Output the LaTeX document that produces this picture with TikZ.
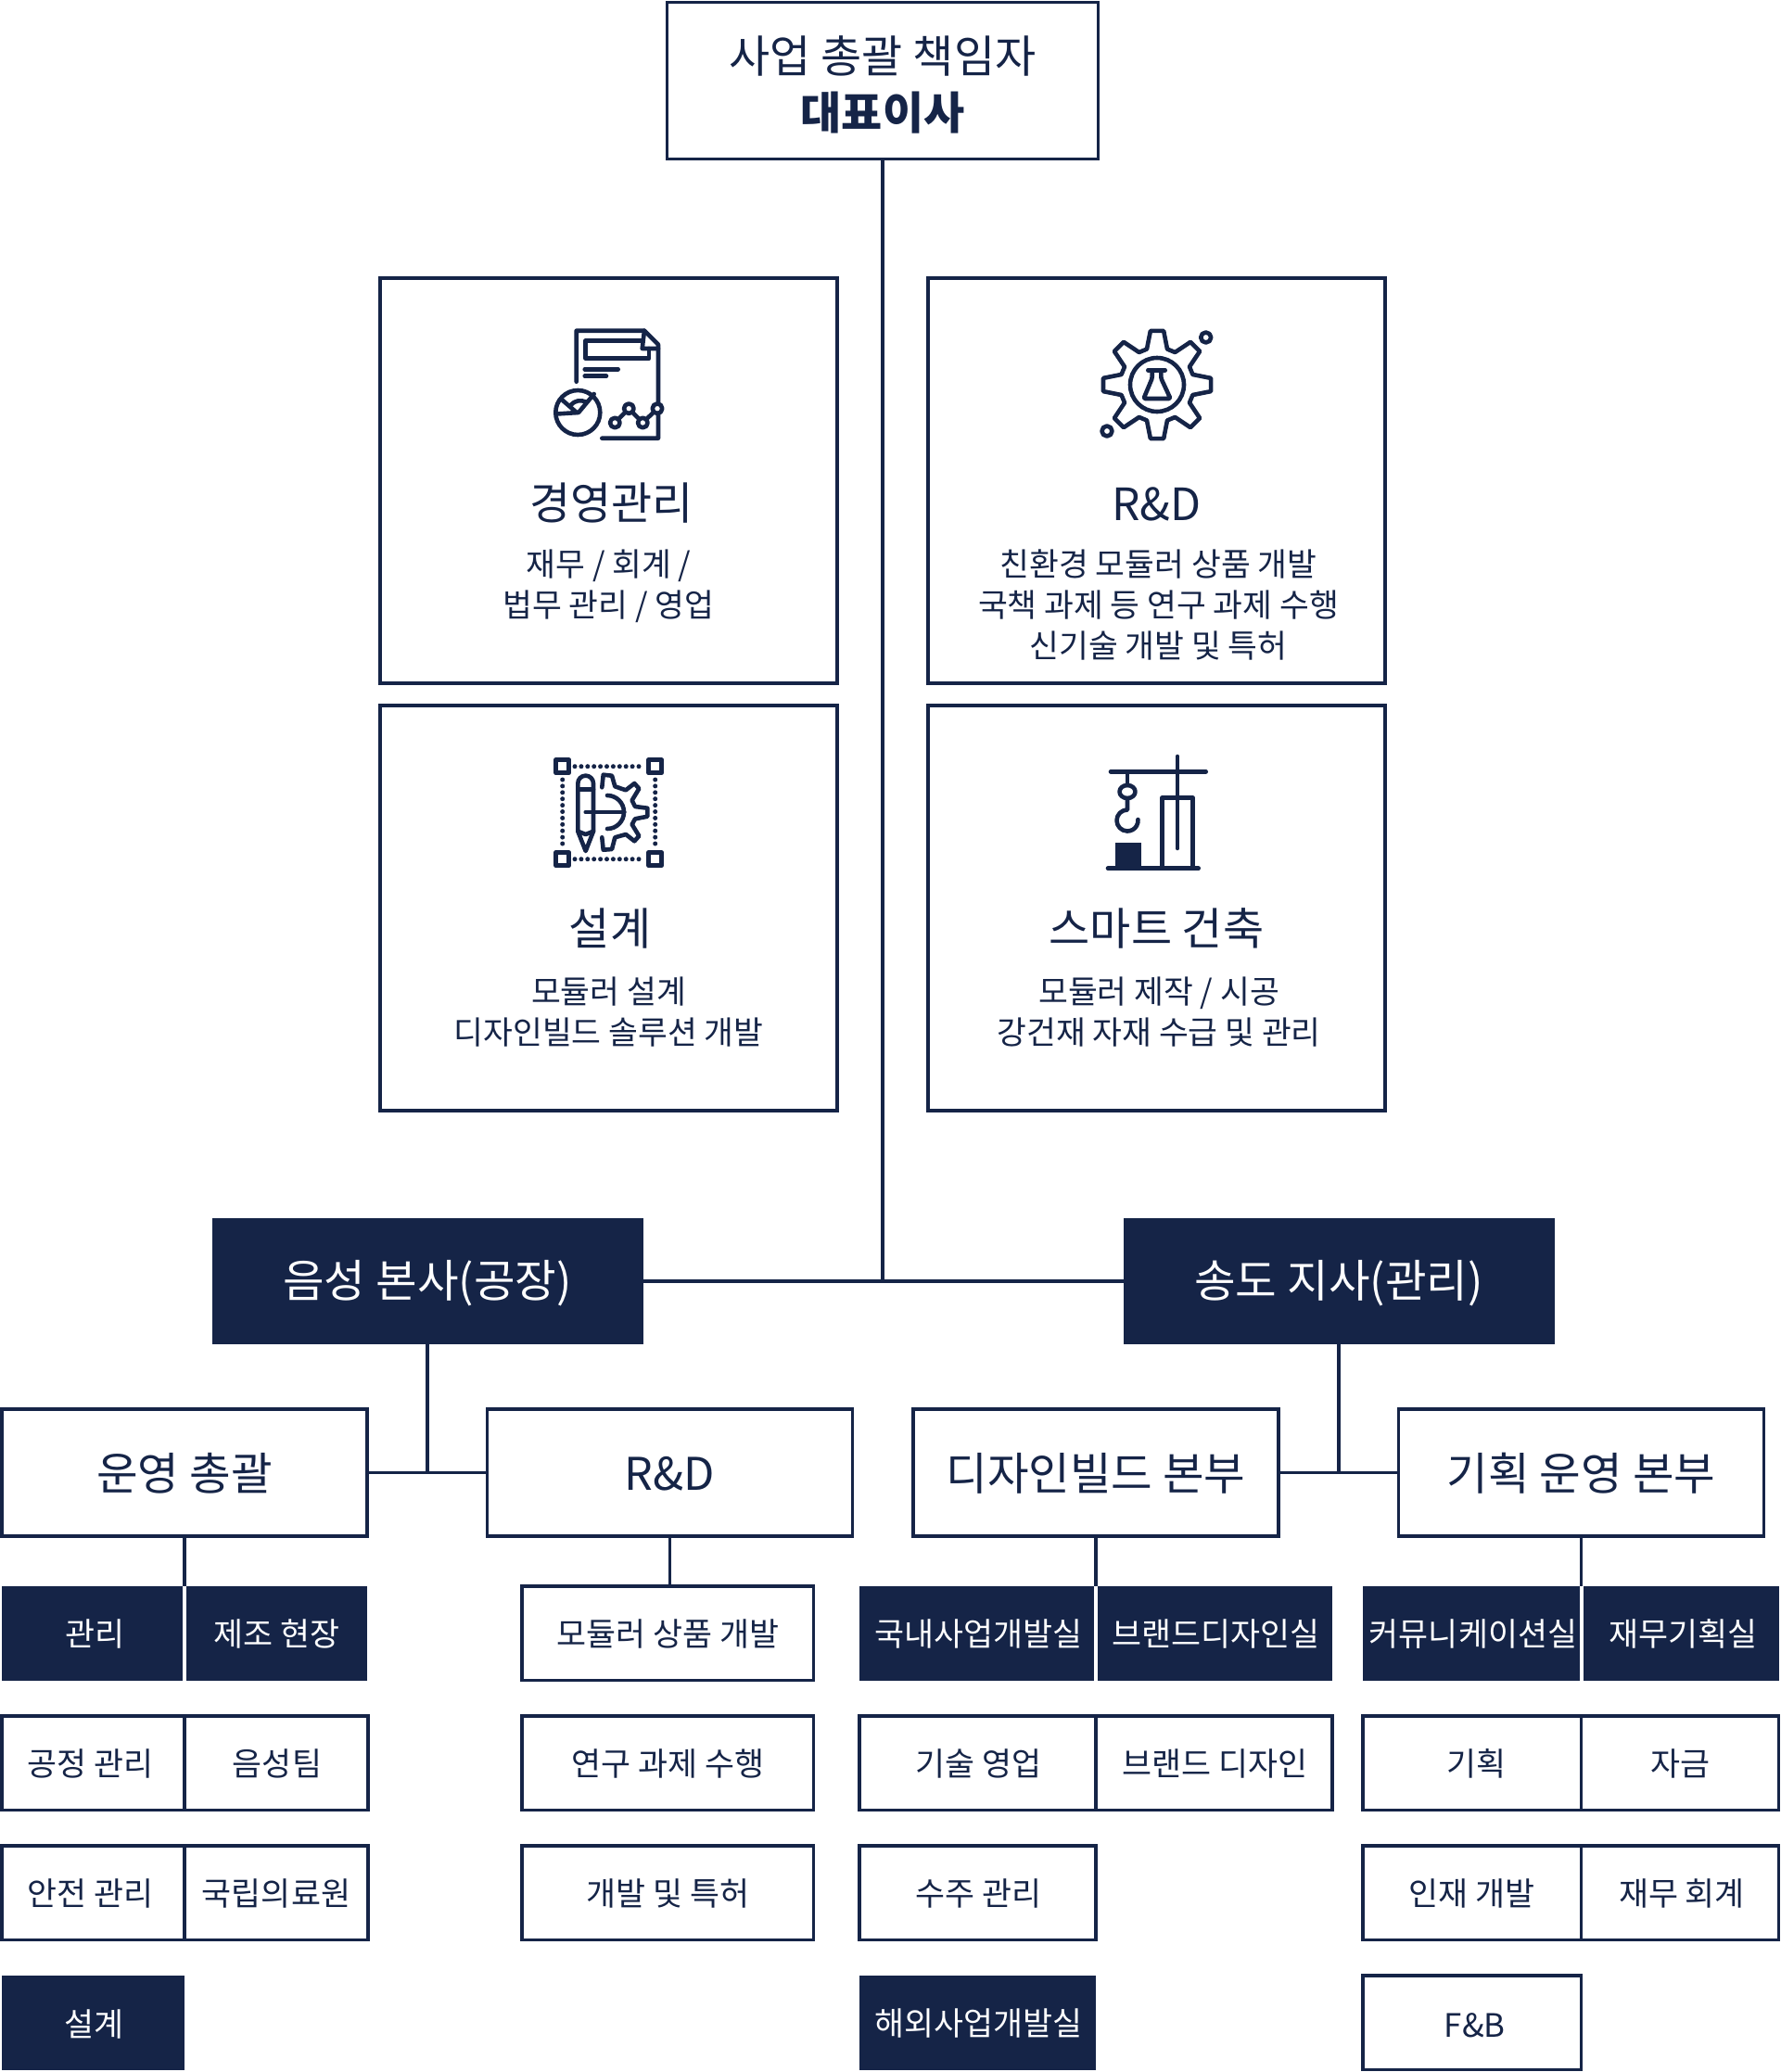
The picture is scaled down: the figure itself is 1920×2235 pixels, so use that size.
\documentclass[tikz,border=0pt]{standalone}
\usepackage{fontspec}
\setmainfont{Noto Sans CJK KR}
\usetikzlibrary{positioning}
\definecolor{navy}{HTML}{152447}
\tikzset{
  box/.style={draw=navy,line width=3.5pt,fill=white,text=navy,inner sep=0pt,outer sep=0pt,align=center},
  chiefbox/.style={box,minimum width=465pt,minimum height=169pt},
  card/.style={box,minimum width=493pt,minimum height=437pt},
  branch/.style={fill=navy,text=white,inner sep=0pt,outer sep=0pt,minimum width=465pt,minimum height=136pt,text height=41.2pt,text depth=5.8pt,font=\fontsize{48.5}{56}\selectfont},
  head/.style={box,minimum width=394pt,minimum height=137pt,text height=44.2pt,text depth=5.8pt,font=\fontsize{48.5}{56}\selectfont},
  cell/.style={box,minimum height=101.5pt,text height=30.8pt,text depth=4.2pt,font=\fontsize{34.8}{40}\selectfont},
  darkcell/.style={fill=navy,text=white,inner sep=0pt,outer sep=0pt,minimum height=101.5pt,text height=30.8pt,text depth=4.2pt,font=\fontsize{34.8}{40}\selectfont},
  under/.style={below=38.5pt of #1.south west,anchor=north west},
  beside/.style={right=0pt of #1.north east,anchor=north west},
  besidegap/.style={right=4pt of #1.north east,anchor=north west},
  cardtitle/.style={text=navy,inner sep=0pt,text height=42.2pt,text depth=5.8pt,font=\fontsize{48}{56}\selectfont},
  cardtext/.style={text=navy,inner sep=0pt,align=center,anchor=north,font=\fontsize{34.6}{43.6}\selectfont},
  link/.style={draw=navy,line width=3.5pt},
  icon/.style={draw=navy,line width=4.6pt,line cap=round,line join=round}
}
\begin{document}
\begin{tikzpicture}[x=1pt,y=-1pt]
    \useasboundingbox (0,0) rectangle (1920,2235);

    \node[chiefbox] (chief) at (952,87) {\rule{0pt}{49pt}{\fontsize{48}{63}\selectfont 사업 총괄 책임자}\\[16pt]{\fontsize{48}{63}\selectfont\bfseries 대표이사}};

    \node[card] (mgmt) at (656.5,518.5) {};
    \node[card,right=98pt of mgmt] (rnd) {};
    \node[card,below=24pt of mgmt] (design) {};
    \node[card,right=98pt of design] (smart) {};

    \node[cardtitle] (mgmttitle) at ([xshift=3pt,yshift=-242pt]mgmt.north) {경영관리};
    \node[cardtitle] (rndtitle) at ([yshift=-243pt]rnd.north) {R\&D};
    \node[cardtitle] (designtitle) at ([xshift=1.5pt,yshift=-240pt]design.north) {설계};
    \node[cardtitle] (smarttitle) at ([yshift=-240pt]smart.north) {스마트 건축};

    \node[cardtext] (mgmttext) at ([yshift=-293pt]mgmt.north) {재무 / 회계 /\\법무 관리 / 영업};
    \node[cardtext] (rndtext) at ([xshift=2pt,yshift=-293pt]rnd.north) {친환경 모듈러 상품 개발\\국책 과제 등 연구 과제 수행\\신기술 개발 및 특허};
    \node[cardtext] (designtext) at ([yshift=-293pt]design.north) {모듈러 설계\\디자인빌드 솔루션 개발};
    \node[cardtext] (smarttext) at ([xshift=2.5pt,yshift=-293pt]smart.north) {모듈러 제작 / 시공\\강건재 자재 수급 및 관리};

    % report icon
    \draw[icon] (621.7,411.7) -- (621.7,356.7) -- (695,356.7) -- (710,371.7) -- (710,472.7) -- (649.3,472.7);
    \draw[icon] (695,356.7) -- (692.7,376) -- (710,376);
    \draw[icon] (692.7,367.3) -- (631.7,367.3) -- (631.7,386.7) -- (700,386.7) -- (700,376);
    \draw[icon] (630.7,398.3) -- (666.7,398.3);
    \draw[icon] (630.7,405.7) -- (654,405.7);
    \draw[icon] (623.3,445) circle[radius=24pt];
    \draw[icon] (600.5,446.5) -- (624,445) -- (640.7,425);
    \draw[icon] (606.7,431.7) -- (622,445);
    \draw[icon] (615.5,437) .. controls (620,432) and (626,431) .. (632,433.5);
    \draw[icon] (663.3,456) -- (678.3,440.7) -- (693.3,456) -- (709,440.7);
    \foreach \px/\py in {663.3/456,678.3/440.7,693.3/456,709/440.7}
      \draw[icon,fill=white] (\px,\py) circle[radius=5.3pt];

    % gear icon
    \begin{scope}[shift={(1248,415)}]
      \draw[icon] (-16:40) \foreach \a in {0,45,...,315} { -- (\a-16:40) -- (\a-7:58.5) -- (\a+7:58.5) -- (\a+16:40) } -- cycle;
      \draw[icon] (0,0) circle[radius=29pt];
    \end{scope}
    \draw[icon] (1300.7,364) circle[radius=5.5pt];
    \draw[icon] (1194,465) circle[radius=5.5pt];
    \draw[icon] (1238.3,399.3) -- (1256.7,399.3);
    \draw[icon,rounded corners=1.5pt] (1242.7,399.3) -- (1242.7,408) -- (1233.5,430) -- (1262.5,430) -- (1252.3,408) -- (1252.3,399.3);

    % pencil icon
    \foreach \qx/\qy in {606.7/826.7,706.7/826.7,606.7/926.7,706.7/926.7}
      \draw[icon,line width=5pt] (\qx-7,\qy-7) rectangle (\qx+7,\qy+7);
    \draw[icon,line width=5pt,dash pattern=on 0pt off 6.9pt] (620,826.7) -- (695,826.7);
    \draw[icon,line width=5pt,dash pattern=on 0pt off 6.9pt] (620,926.7) -- (695,926.7);
    \draw[icon,line width=5pt,dash pattern=on 0pt off 6.9pt] (606.7,841) -- (606.7,914);
    \draw[icon,line width=5pt,dash pattern=on 0pt off 6.9pt] (706.7,841) -- (706.7,914);
    \draw[icon] (623.3,896.7) -- (623.3,845) arc[start angle=180,end angle=0,radius=8.35pt] -- (640,896.7) -- (631.7,918) -- cycle;
    \draw[icon] (623.3,851.7) -- (640,851.7);
    \draw[icon] (623.3,896.7) -- (631.7,900) -- (640,896.7);
    \draw[icon] (631.7,876) -- (673.3,876);
    \draw[icon] (655,858) arc[start angle=90,end angle=-90,radius=18pt];
    \draw[icon] (649.3,849.3) -- (650.7,835.7) -- (660,836.7) -- (663.3,848.3) -- (675,852.3) -- (684.3,845) -- (689.3,850.7) -- (681.7,863.3) -- (685,870) -- (698.3,871.7) -- (698.3,880.7) -- (685,883.3) -- (681.7,889.3) -- (689.3,901.7) -- (684.3,907.3) -- (675,900) -- (663.3,903.3) -- (660,916) -- (650.7,916.7) -- (649.3,903.3);

    % crane icon
    \draw[icon] (1198,832.3) -- (1300.7,832.3);
    \draw[icon] (1270,816) -- (1270,915);
    \draw[icon] (1216,832.3) -- (1216,847);
    \draw[icon] (1216,854) ellipse[x radius=8.5pt,y radius=7pt];
    \draw[icon] (1216,861) -- (1216,873.5) arc[start angle=90,end angle=365,radius=11.5pt];
    \draw[icon,line cap=butt] (1253.3,936.7) -- (1253.3,860.7) -- (1286.7,860.7) -- (1286.7,936.7);
    \draw[icon] (1195,936.7) -- (1292.7,936.7);
    \fill[navy] (1203,908.7) rectangle (1231,936.7);

    \node[branch] (eumseong) at (461,1382) {음성 본사(공장)};
    \node[branch,right=518pt of eumseong] (songdo) {송도 지사(관리)};

    \node[head] (ops) at (199,1588.5) {운영 총괄};
    \node[head,right=129.5pt of ops] (lab) {R\&D};
    \node[head] (build) at (1182,1588.5) {디자인빌드 본부};
    \node[head,right=129.5pt of build] (plan) {기획 운영 본부};

    \node[darkcell,minimum width=195pt,anchor=north west] (opsmanage) at (2,1711) {\kern6pt 관리};
    \node[darkcell,minimum width=195pt,besidegap=opsmanage] (opssite) {제조 현장};
    \node[cell,minimum width=197pt,under=opsmanage] (opsprocess) {\kern-6pt 공정 관리};
    \node[cell,minimum width=198pt,beside=opsprocess] (opsteam) {\kern2pt 음성팀};
    \node[cell,minimum width=197pt,under=opsprocess] (opssafety) {\kern-6pt 안전 관리};
    \node[cell,minimum width=198pt,beside=opssafety] (opsmedical) {국립의료원};
    \node[darkcell,minimum width=197pt,text height=32.8pt,under=opssafety] (opsdesign) {\kern2pt 설계};

    \node[cell,minimum width=314.5pt,anchor=north west] (labmodule) at (563,1711) {모듈러 상품 개발};
    \node[cell,minimum width=314.5pt,under=labmodule] (labresearch) {연구 과제 수행};
    \node[cell,minimum width=314.5pt,under=labresearch] (labpatent) {개발 및 특허};

    \node[darkcell,minimum width=253pt,anchor=north west] (builddomestic) at (927,1711) {\kern4pt 국내사업개발실};
    \node[darkcell,minimum width=253pt,besidegap=builddomestic] (buildbrand) {\kern2pt 브랜드디자인실};
    \node[cell,minimum width=255pt,under=builddomestic] (buildsales) {\kern2pt 기술 영업};
    \node[cell,minimum width=255pt,beside=buildsales] (buildbranding) {\kern2pt 브랜드 디자인};
    \node[cell,minimum width=255pt,under=buildsales] (buildorder) {\kern2pt 수주 관리};
    \node[darkcell,minimum width=255pt,under=buildorder] (buildoverseas) {\kern2pt 해외사업개발실};

    \node[darkcell,minimum width=234pt,anchor=north west] (plancomm) at (1470,1711) {\kern4pt 커뮤니케이션실};
    \node[darkcell,minimum width=211pt,besidegap=plancomm] (planfinance) {\kern4pt 재무기획실};
    \node[cell,minimum width=235.5pt,under=plancomm] (planning) {\kern10pt 기획};
    \node[cell,minimum width=213pt,beside=planning] (planfund) {자금};
    \node[cell,minimum width=235.5pt,under=planning] (planpeople) {인재 개발};
    \node[cell,minimum width=213pt,beside=planpeople] (planaccount) {\kern4pt 재무 회계};
    \node[cell,minimum width=235.5pt,text height=34.8pt,under=planpeople] (planfnb) {\kern6pt F\&B};

    \draw[link] (chief) -- (chief |- eumseong);
    \draw[link] (eumseong) -- (songdo);
    \draw[link] (eumseong) -- (eumseong |- ops);
    \draw[link] (ops) -- (lab);
    \draw[link] (songdo) -- (songdo |- build);
    \draw[link] (build) -- (plan);
    \draw[link] (ops) -- (ops |- opsmanage.north);
    \draw[link] (lab) -- (lab |- labmodule.north);
    \draw[link] (build) -- (build |- builddomestic.north);
    \draw[link] (plan) -- (plan |- plancomm.north);
  \end{tikzpicture}
\end{document}
